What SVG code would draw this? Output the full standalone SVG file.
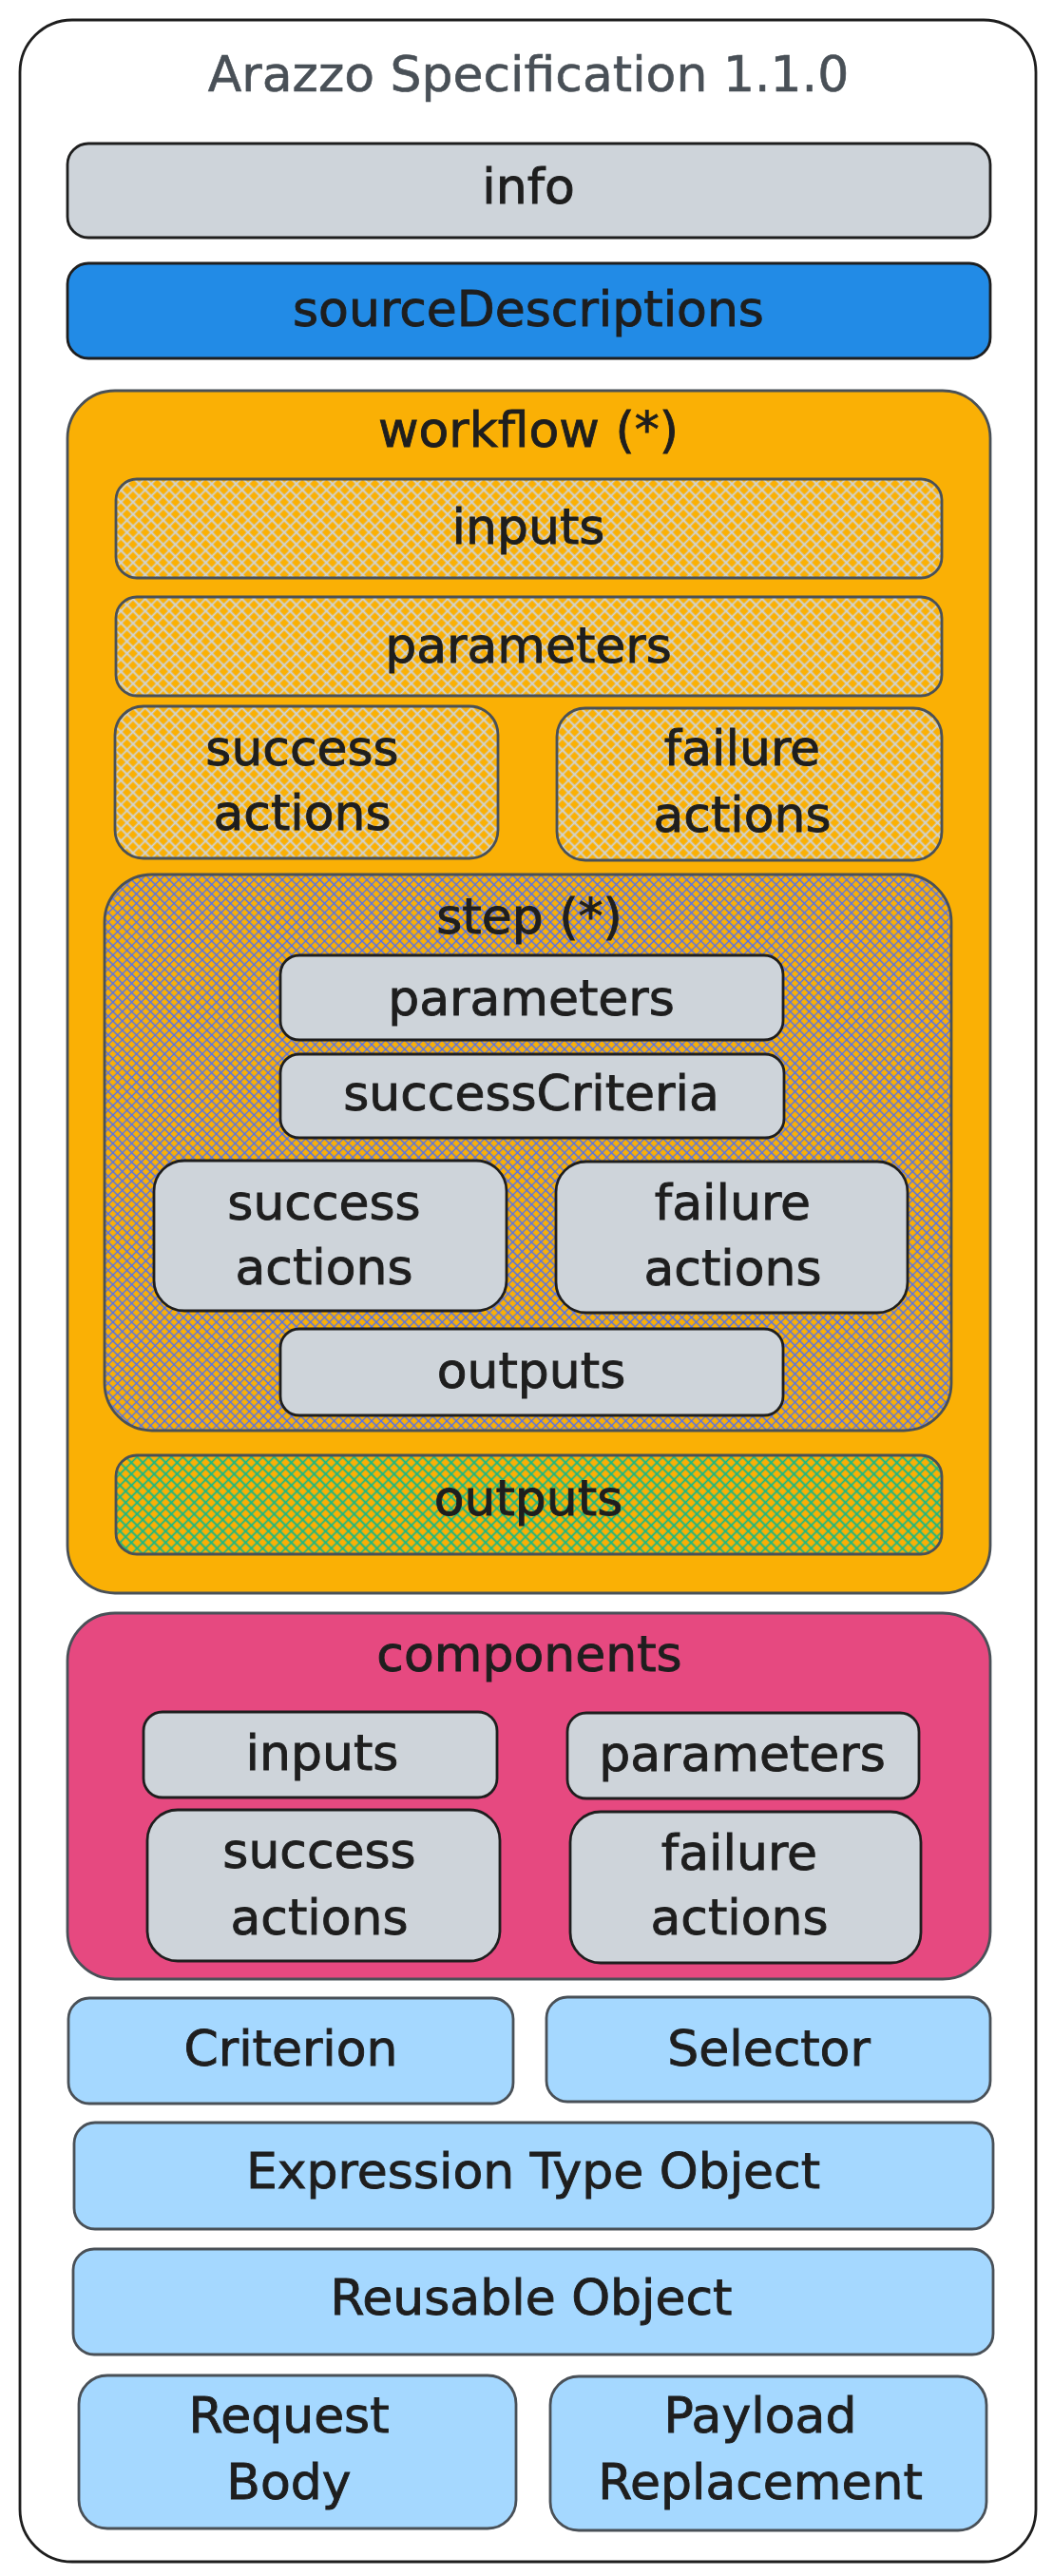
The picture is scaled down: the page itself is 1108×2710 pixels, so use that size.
<svg xmlns="http://www.w3.org/2000/svg" width="1108" height="2710" viewBox="0 0 1108 2710">
<defs>
<pattern id="hGray" width="9" height="9" patternUnits="userSpaceOnUse" patternTransform="rotate(45)"><path d="M0 4.5H9M4.5 0V9" stroke="#ced4da" stroke-width="1.8" fill="none"/></pattern>
<pattern id="hBlue" width="7" height="7" patternUnits="userSpaceOnUse" patternTransform="rotate(45)"><path d="M0 3.5H7M3.5 0V7" stroke="#4c6ef5" stroke-width="1.3" fill="none"/></pattern>
<pattern id="hGreen" width="8.5" height="8.5" patternUnits="userSpaceOnUse" patternTransform="rotate(45)"><path d="M0 4.25H8.5M4.25 0V8.5" stroke="#12b886" stroke-width="1.7" fill="none"/></pattern>
</defs>
<style>
.t{font-family:"DejaVu Sans",sans-serif;font-size:52px;text-anchor:middle;fill:#1e1e1e;stroke:#1e1e1e;stroke-width:0.9}
.title{fill:#495057;stroke:#495057;stroke-width:0.6}
.bk{stroke:#1e1e1e;stroke-width:2.8}
.gy{stroke:#495057;stroke-width:2.8}
.grey{fill:#ced4da}
.blue{fill:#228be6}
.lblue{fill:#a5d8ff}
</style>
<rect width="1108" height="2710" fill="#ffffff"/>
<g id="spec">
<rect x="21" y="21" width="1069" height="2674" rx="55" fill="#ffffff" class="bk"/>
<text class="t title" x="556" y="96">Arazzo Specification 1.1.0</text>
</g>
<g id="info">
<rect x="71" y="151" width="971" height="99" rx="22" class="grey bk"/>
<text class="t" x="556" y="214">info</text>
</g>
<g id="sourceDescriptions">
<rect x="71" y="277" width="971" height="100" rx="22" class="blue bk"/>
<text class="t" x="556" y="343">sourceDescriptions</text>
</g>
<g id="workflow">
<rect x="71" y="411" width="971" height="1265" rx="50" fill="#fab005" class="gy"/>
<text class="t" x="556" y="470">workflow (*)</text>
</g>
<g id="wf-inputs">
<rect x="122" y="504" width="869" height="104" rx="22" fill="url(#hGray)" class="gy"/>
<text class="t" x="556" y="572">inputs</text>
</g>
<g id="wf-parameters">
<rect x="122" y="628" width="869" height="104" rx="22" fill="url(#hGray)" class="gy"/>
<text class="t" x="556" y="697">parameters</text>
</g>
<g id="wf-success">
<rect x="121" y="743" width="403" height="160" rx="30" fill="url(#hGray)" class="gy"/>
<text class="t" x="318" y="805">success</text>
<text class="t" x="318" y="873">actions</text>
</g>
<g id="wf-failure">
<rect x="586" y="745" width="405" height="160" rx="30" fill="url(#hGray)" class="gy"/>
<text class="t" x="781" y="805">failure</text>
<text class="t" x="781" y="875">actions</text>
</g>
<g id="step">
<rect x="110" y="920" width="891" height="585" rx="50" fill="url(#hBlue)" class="gy"/>
<text class="t" x="557" y="982">step (*)</text>
</g>
<g id="step-parameters">
<rect x="295" y="1005" width="529" height="89" rx="20" class="grey bk"/>
<text class="t" x="559" y="1068">parameters</text>
</g>
<g id="step-successCriteria">
<rect x="295" y="1109" width="530" height="88" rx="20" class="grey bk"/>
<text class="t" x="559" y="1168">successCriteria</text>
</g>
<g id="step-success">
<rect x="162" y="1221" width="371" height="158" rx="32" class="grey bk"/>
<text class="t" x="341" y="1283">success</text>
<text class="t" x="341" y="1351">actions</text>
</g>
<g id="step-failure">
<rect x="585" y="1222" width="370" height="159" rx="32" class="grey bk"/>
<text class="t" x="771" y="1283">failure</text>
<text class="t" x="771" y="1352">actions</text>
</g>
<g id="step-outputs">
<rect x="295" y="1398" width="529" height="91" rx="20" class="grey bk"/>
<text class="t" x="559" y="1460">outputs</text>
</g>
<g id="wf-outputs">
<rect x="122" y="1531" width="869" height="104" rx="22" fill="url(#hGreen)" class="gy"/>
<text class="t" x="556" y="1594">outputs</text>
</g>
<g id="components">
<rect x="71" y="1697" width="971" height="385" rx="50" fill="#e64980" class="gy"/>
<text class="t" x="557" y="1758">components</text>
</g>
<g id="comp-inputs">
<rect x="151" y="1801" width="372" height="90" rx="20" class="grey bk"/>
<text class="t" x="339" y="1862">inputs</text>
</g>
<g id="comp-parameters">
<rect x="597" y="1802" width="370" height="90" rx="20" class="grey bk"/>
<text class="t" x="781" y="1863">parameters</text>
</g>
<g id="comp-success">
<rect x="155" y="1904" width="371" height="159" rx="32" class="grey bk"/>
<text class="t" x="336" y="1965">success</text>
<text class="t" x="336" y="2035">actions</text>
</g>
<g id="comp-failure">
<rect x="600" y="1906" width="369" height="159" rx="32" class="grey bk"/>
<text class="t" x="778" y="1967">failure</text>
<text class="t" x="778" y="2035">actions</text>
</g>
<g id="criterion">
<rect x="72" y="2102" width="468" height="111" rx="22" class="lblue gy"/>
<text class="t" x="306" y="2173">Criterion</text>
</g>
<g id="selector">
<rect x="575" y="2101" width="467" height="110" rx="22" class="lblue gy"/>
<text class="t" x="809" y="2173">Selector</text>
</g>
<g id="expression-type-object">
<rect x="78" y="2233" width="967" height="112" rx="22" class="lblue gy"/>
<text class="t" x="561" y="2302">Expression Type Object</text>
</g>
<g id="reusable-object">
<rect x="77" y="2366" width="968" height="111" rx="22" class="lblue gy"/>
<text class="t" x="559" y="2435">Reusable Object</text>
</g>
<g id="request-body">
<rect x="83" y="2499" width="460" height="161" rx="30" class="lblue gy"/>
<text class="t" x="304" y="2559">Request</text>
<text class="t" x="304" y="2629">Body</text>
</g>
<g id="payload-replacement">
<rect x="579" y="2500" width="459" height="162" rx="30" class="lblue gy"/>
<text class="t" x="800" y="2559">Payload</text>
<text class="t" x="800" y="2629">Replacement</text>
</g>
<g id="connectors"/>
</svg>
